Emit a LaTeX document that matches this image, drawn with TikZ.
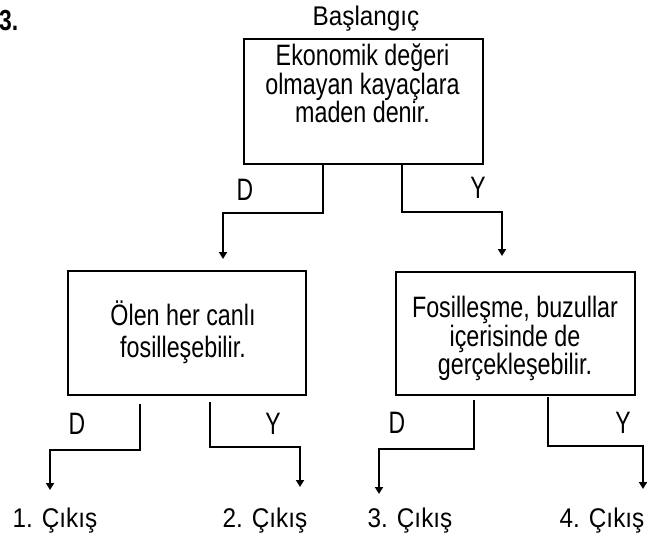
\documentclass[tikz,border=0pt]{standalone}
\usepackage{fontspec}
\setmainfont{Liberation Sans}[FakeStretch=0.79]
\newfontfamily\lblfont{Liberation Sans}[FakeStretch=0.74]
\newfontfamily\exitfont{Liberation Sans}[FakeStretch=0.9]
\usetikzlibrary{arrows.meta}
\begin{document}
\begin{tikzpicture}[x=1pt,y=-1pt,
  box/.style={draw, line width=1.8pt, inner sep=0pt, anchor=north west},
  txt/.style={inner sep=0pt, anchor=base, font=\fontsize{29.5}{29.5}\selectfont},
  lbl/.style={inner sep=0pt, anchor=base, font=\lblfont\fontsize{31}{31}\selectfont},
  exitlbl/.style={inner sep=0pt, anchor=base, font=\exitfont\fontsize{27}{27}\selectfont},
  conn/.style={line width=1.8pt, -{Triangle[length=7pt,width=8pt]}}
]
\useasboundingbox (0,0) rectangle (661,539);

% title and start
\node[inner sep=0pt, anchor=base west, font=\bfseries\fontsize{29}{29}\selectfont] (num) at (-1,30) {3.};
\node[exitlbl] (start) at (366,25) {Başlangıç};

% boxes
\node[box, minimum width=239pt, minimum height=125pt] (b1) at (243,38) {};
\node[box, minimum width=238pt, minimum height=124pt] (b2) at (67,270) {};
\node[box, minimum width=239pt, minimum height=123pt] (b3) at (395,271) {};

% box texts
\node[txt] (t1a) at (362.5,65) {Ekonomik değeri};
\node[txt] (t1b) at (362.5,94) {olmayan kayaçlara};
\node[txt] (t1c) at (362.5,122) {maden denir.};

\node[txt] (t2a) at (183,325) {Ölen her canlı};
\node[txt] (t2b) at (183,357) {fosilleşebilir.};

\node[txt] (t3a) at (515,317) {Fosilleşme, buzullar};
\node[txt] (t3b) at (515,346) {içerisinde de};
\node[txt] (t3c) at (515,374) {gerçekleşebilir.};

% connector coordinates
\coordinate (k1) at (323,213);
\coordinate (a1) at (223,259);
\coordinate (k2) at (402,212);
\coordinate (a2) at (502,256);

\coordinate (s3) at (140,404);
\coordinate (k3) at (140,450);
\coordinate (a3) at (50,490);
\coordinate (s4) at (210,402);
\coordinate (k4) at (210,447);
\coordinate (a4) at (300,487);

\coordinate (s5) at (474,400);
\coordinate (k5) at (474,449);
\coordinate (a5) at (379,494);
\coordinate (s6) at (548,397);
\coordinate (k6) at (548,446);
\coordinate (a6) at (643,489);

% connectors
\draw[conn] (b1.south -| k1) -- (k1) -| (a1);
\draw[conn] (b1.south -| k2) -- (k2) -| (a2);
\draw[conn] (s3) -- (k3) -| (a3);
\draw[conn] (s4) -- (k4) -| (a4);
\draw[conn] (s5) -- (k5) -| (a5);
\draw[conn] (s6) -- (k6) -| (a6);

% D / Y labels
\node[lbl] (l1) at (245,200) {D};
\node[lbl] (l2) at (478,198) {Y};
\node[lbl] (l3) at (77,434) {D};
\node[lbl] (l4) at (273,434) {Y};
\node[lbl] (l5) at (397,433) {D};
\node[lbl] (l6) at (623,433) {Y};

% exits
\node[exitlbl] (e1) at (55,527) {1. Çıkış};
\node[exitlbl] (e2) at (265,527) {2. Çıkış};
\node[exitlbl] (e3) at (410,527) {3. Çıkış};
\node[exitlbl] (e4) at (602,527) {4. Çıkış};
\end{tikzpicture}
\end{document}
